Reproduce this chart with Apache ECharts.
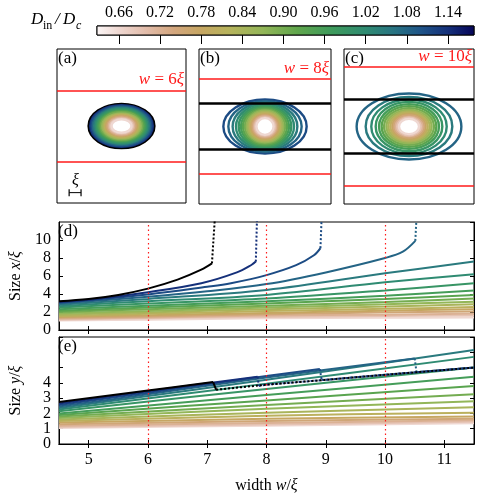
<!DOCTYPE html>
<html>
<head>
<meta charset="utf-8">
<script src="https://cdn.jsdelivr.net/npm/echarts@6/dist/echarts.min.js"></script>
<style>
  html, body { margin: 0; padding: 0; background: #fff; }
  #chart { width: 478px; height: 498px; }
</style>
</head>
<body>
<div id="chart"></div>
<script>
// ---- data ----
const dVals = [0.66, 0.69, 0.72, 0.75, 0.78, 0.81, 0.84, 0.87, 0.90, 0.93, 0.96, 0.99, 1.02, 1.05, 1.08, 1.11, 1.14];
const cbTicks = [0.66, 0.72, 0.78, 0.84, 0.90, 0.96, 1.02, 1.08, 1.14];
const cbRange = [0.628, 1.178];
const wTicks = [5, 6, 7, 8, 9, 10, 11];
const wMarks = [6, 8, 10];
const yTicksEvenE = [0, 2, 4, 6];
const yTicksOddE = [1, 3, 5];

// (d) size x of the states that stay bounded (D = 0.66 ... 1.05)
const wGridX = [4.5, 6, 8, 10, 11.5];
const sizeXRows = [
  [1.05, 1.15, 1.3, 1.35, 1.4],
  [1.15, 1.3, 1.45, 1.55, 1.6],
  [1.25, 1.4, 1.6, 1.7, 1.8],
  [1.35, 1.5, 1.75, 1.95, 2.05],
  [1.45, 1.65, 1.9, 2.15, 2.3],
  [1.55, 1.8, 2.1, 2.35, 2.55],
  [1.7, 1.95, 2.3, 2.6, 2.85],
  [1.85, 2.1, 2.5, 2.85, 3.15],
  [2.0, 2.3, 2.7, 3.1, 3.5],
  [2.15, 2.5, 2.95, 3.45, 3.9],
  [2.3, 2.7, 3.2, 3.8, 4.4],
  [2.5, 2.95, 3.5, 4.4, 5.2],
  [2.65, 3.2, 3.9, 5.3, 6.2],
  [2.8, 3.45, 4.45, 6.3, 7.6]
];
// (d) states that blow up along x
const blackX = [[4.5, 3.2], [5, 3.45], [5.5, 3.9], [6, 4.6], [6.5, 5.6], [6.9, 6.7], [7.08, 7.4]];
const blackXUp = [[7.08, 7.4], [7.1, 9.5], [7.13, 12.5]];
const x114 = [[4.5, 3.12], [5, 3.35], [6, 4.2], [6.9, 5.2], [7.5, 6.4], [7.75, 7.25], [7.82, 7.6]];
const x114Up = [[7.82, 7.6], [7.84, 12.5]];
const x111 = [[4.5, 3.05], [6, 3.95], [7, 4.8], [7.4, 5.2], [8, 6.1], [8.5, 7.2], [8.8, 8.3], [8.91, 9.1]];
const x111Up = [[8.91, 9.1], [8.93, 12.5]];
const x108 = [[4.5, 2.95], [6, 3.7], [7, 4.3], [8, 5.1], [9, 6.4], [10, 8.0], [10.3, 8.7], [10.51, 9.9]];
const x108Up = [[10.51, 9.9], [10.53, 12.5]];

// (e) size y of the bounded states
const wGridY = [4.5, 8, 11.5];
const sizeYRows = [
  [1.05, 1.2, 1.35],
  [1.12, 1.28, 1.45],
  [1.2, 1.38, 1.55],
  [1.3, 1.5, 1.65],
  [1.4, 1.65, 1.8],
  [1.5, 1.85, 2.05],
  [1.6, 2.05, 2.4],
  [1.7, 2.3, 2.8],
  [1.8, 2.55, 3.25],
  [1.9, 2.85, 3.8],
  [2.0, 3.2, 4.4],
  [2.15, 3.6, 5.0],
  [2.25, 3.95, 5.7],
  [2.35, 4.2, 6.15]
];
const blackY = [[4.5, 2.75], [6, 3.5], [7.1, 4.05]];
const blackYDrop = [[7.1, 4.05], [7.15, 3.55]];
const y114 = [[4.5, 2.65], [6, 3.45], [7.85, 4.4]];
const y114Drop = [[7.85, 4.4], [7.87, 3.8]];
const y111 = [[4.5, 2.55], [6, 3.35], [8, 4.45], [8.9, 4.9]];
const y111Drop = [[8.9, 4.9], [8.93, 4.2]];
const y108 = [[4.5, 2.45], [6, 3.25], [8, 4.35], [10, 5.35], [10.5, 5.6]];
const y108Drop = [[10.5, 5.6], [10.53, 4.7]];
// width of the stripe once the state is unbounded
const stripeY = [[7.15, 3.55], [8, 3.88], [9, 4.2], [10, 4.53], [11.5, 5.0]];

// snapshots (a) w=6, (b) w=8, (c) w=10 : semi-axes in units of xi, ascending D
const panelW = [6, 8, 10];
const snapA_rx = [0.84, 0.95, 1.06, 1.18, 1.29, 1.4, 1.51, 1.62, 1.74, 1.85, 1.96, 2.07, 2.18, 2.3, 2.41, 2.52, 2.63];
const snapA_ry = [0.56, 0.62, 0.7, 0.78, 0.84, 0.92, 1.0, 1.06, 1.15, 1.23, 1.29, 1.37, 1.46, 1.51, 1.6, 1.68, 1.74];
const snapA_black = [2.74, 1.83];
const snapB_rx = [0.72, 0.82, 0.92, 1.03, 1.15, 1.27, 1.40, 1.53, 1.68, 1.85, 2.02, 2.21, 2.44, 2.72, 3.08, 3.5];
const snapB_ry = [0.7, 0.77, 0.85, 0.93, 1.02, 1.12, 1.22, 1.32, 1.42, 1.52, 1.63, 1.75, 1.88, 2.0, 2.12, 2.27];
const snapC_rx = [0.84, 0.98, 1.12, 1.26, 1.4, 1.57, 1.74, 1.9, 2.1, 2.3, 2.52, 2.8, 3.17, 3.64, 4.4];
const snapC_ry = [0.64, 0.73, 0.81, 0.92, 1.04, 1.15, 1.26, 1.4, 1.54, 1.71, 1.88, 2.07, 2.27, 2.49, 2.77];

// ---- colour map for D_in/D_c ----
const cmapStops = [
  [0.628, '#fbf6f6'], [0.66, '#efd8d2'], [0.70, '#e2bcaa'], [0.74, '#d3a67e'],
  [0.78, '#c6a662'], [0.82, '#b7b35c'], [0.87, '#93b658'], [0.92, '#60a64c'],
  [0.97, '#3e9b5c'], [1.02, '#2f8b72'], [1.06, '#287482'], [1.10, '#1f5488'],
  [1.14, '#15307a'], [1.178, '#050458']
];
function hexRgb(h) {
  return [1, 3, 5].map(i => parseInt(h.substr(i, 2), 16));
}
function colorOf(d) {
  for (let i = 1; i < cmapStops.length; i++) {
    const [d0, c0] = cmapStops[i - 1];
    const [d1, c1] = cmapStops[i];
    if (d <= d1) {
      const t = Math.max(0, (d - d0) / (d1 - d0));
      const a = hexRgb(c0), b = hexRgb(c1);
      const m = a.map((v, k) => Math.round(v + (b[k] - v) * t));
      return 'rgb(' + m.join(',') + ')';
    }
  }
  return cmapStops[cmapStops.length - 1][1];
}

const FONT = 'Liberation Serif';
const FS = 16;
const txt = { fontFamily: FONT, fontSize: FS, color: '#000' };
const italic = { fontFamily: FONT, fontSize: FS, fontStyle: 'italic', color: '#000' };
const RED = '#ff1a1a';

// ---- grids ----
const grids = [
  { left: 97, top: 26, width: 377, height: 9 },                 // colour bar
  { left: 57, top: 49, width: 129, height: 154 },               // (a)
  { left: 199, top: 49, width: 132, height: 155 },              // (b)
  { left: 344, top: 49, width: 130, height: 155 },              // (c)
  { left: 56, top: 222, width: 418, height: 108 },              // (d)
  { left: 56, top: 337, width: 418, height: 107 }               // (e)
].map(g => Object.assign({ show: true, borderColor: '#000', borderWidth: 1, backgroundColor: 'transparent' }, g));

const PX_PER_XI = 11.9;
function panelAxes(gi) {
  const g = grids[gi];
  const hx = g.width / PX_PER_XI / 2, hy = g.height / PX_PER_XI / 2;
  return [
    { type: 'value', gridIndex: gi, min: -hx, max: hx, show: false },
    { type: 'value', gridIndex: gi, min: -hy, max: hy, show: false }
  ];
}

const tickStyle = { show: true, inside: true, length: 4, lineStyle: { color: '#000', width: 1 } };
function plotX(gi, pos, labels, name) {
  return {
    type: 'value', gridIndex: gi, position: pos, min: 4.5, max: 11.5,
    axisLine: { show: true, lineStyle: { color: '#000', width: 1 } },
    axisTick: Object.assign({ customValues: wTicks }, tickStyle),
    axisLabel: labels ? Object.assign({ customValues: wTicks, margin: 8 }, txt) : { show: false },
    splitLine: { show: false },
    name: name || '', nameLocation: 'middle', nameGap: 34,
    nameTextStyle: { fontFamily: FONT, fontSize: FS, color: '#000', rich: { t: txt, i: italic } }
  };
}
function plotY(gi, pos, max, interval, labels, name) {
  return {
    type: 'value', gridIndex: gi, position: pos, min: 0, max: max, interval: interval,
    axisLine: { show: true, lineStyle: { color: '#000', width: 1 } },
    axisTick: tickStyle,
    axisLabel: labels ? Object.assign({ showMinLabel: true, showMaxLabel: false, margin: 8 }, labels === true ? {} : { customValues: labels }, txt) : { show: false },
    splitLine: { show: false },
    name: name || '', nameLocation: 'middle', nameGap: 35, nameRotate: 90,
    nameTextStyle: { fontFamily: FONT, fontSize: FS, color: '#000', rich: { t: txt, i: italic } }
  };
}

const aA = panelAxes(1), aB = panelAxes(2), aC = panelAxes(3);
const xAxes = [
  {
    type: 'value', gridIndex: 0, position: 'top', min: cbRange[0], max: cbRange[1], z: 5,
    axisLine: { show: false },
    axisTick: { show: true, inside: true, length: 9, customValues: cbTicks, lineStyle: { color: '#000', width: 1 } },
    axisLabel: Object.assign({ customValues: cbTicks, margin: 5, formatter: v => v.toFixed(2) }, txt),
    splitLine: { show: false }
  },
  aA[0], aB[0], aC[0],
  plotX(4, 'bottom', false), plotX(4, 'top', false),
  plotX(5, 'bottom', true, '{t|width }{i|w}{t|/}{i|ξ}'), plotX(5, 'top', false)
];
// (e) odd labels on a second, otherwise invisible left axis so no label gets dropped
const yOddE = plotY(5, 'left', 7, 1, yTicksOddE);
yOddE.axisLine = { show: false };
yOddE.axisTick = { show: false };
const yAxes = [
  { type: 'value', gridIndex: 0, min: 0, max: 1, show: false },
  aA[1], aB[1], aC[1],
  plotY(4, 'left', 12, 2, true, '{t|Size }{i|x}{t|/}{i|ξ}'), plotY(4, 'right', 12, 2, false),
  plotY(5, 'left', 7, 1, yTicksEvenE, '{t|Size }{i|y}{t|/}{i|ξ}'), plotY(5, 'right', 7, 1, false),
  yOddE
];

const series = [];

// colour bar
series.push({
  type: 'custom', xAxisIndex: 0, yAxisIndex: 0, silent: true,
  data: [[cbRange[0], cbRange[1]]],
  renderItem: function (params, api) {
    const p0 = api.coord([api.value(0), 0]);
    const p1 = api.coord([api.value(1), 1]);
    return {
      type: 'rect',
      shape: { x: p0[0], y: p1[1], width: p1[0] - p0[0], height: p0[1] - p1[1] },
      style: {
        fill: {
          type: 'linear', x: 0, y: 0, x2: 1, y2: 0,
          colorStops: cmapStops.map(s => ({ offset: (s[0] - cbRange[0]) / (cbRange[1] - cbRange[0]), color: s[1] }))
        },
        stroke: '#000', lineWidth: 1
      }
    };
  }
});

// snapshots
function snapshot(axisIdx, rx, ry, extra, w, stripeHalf) {
  const items = [];
  rx.forEach((r, i) => items.push({ value: [r, ry[i]], itemStyle: { color: colorOf(dVals[i]) } }));
  items.reverse(); // outer first, inner on top
  if (extra) items.unshift({ value: extra, itemStyle: { color: '#000' } });
  const lines = [
    {
      yAxis: w / 2,
      label: {
        show: true, position: 'insideEndTop', distance: 2,
        formatter: '{i|w} = ' + w + '{i|ξ}',
        color: RED, fontFamily: FONT, fontSize: 17,
        rich: { i: { fontStyle: 'italic', color: RED, fontFamily: FONT, fontSize: 17 } }
      }
    },
    { yAxis: -w / 2 }
  ];
  series.push({
    type: 'custom', xAxisIndex: axisIdx, yAxisIndex: axisIdx, silent: true,
    data: items,
    renderItem: function (params, api) {
      const c = api.coord([0, 0]);
      const s = api.size([api.value(0), api.value(1)]);
      return {
        type: 'ellipse',
        shape: { cx: c[0], cy: c[1], rx: s[0], ry: s[1] },
        style: { fill: 'none', stroke: api.visual('color'), lineWidth: params.dataIndex === 0 && extra ? 3 : 2.4 }
      };
    },
    markLine: {
      silent: true, symbol: 'none', animation: false,
      lineStyle: { color: RED, width: 1.5, type: 'solid', opacity: 1 },
      label: { show: false },
      data: lines
    }
  });
  if (stripeHalf) {
    series.push({
      type: 'custom', xAxisIndex: axisIdx, yAxisIndex: axisIdx, silent: true,
      data: [], renderItem: () => null,
      markLine: {
        silent: true, symbol: 'none', animation: false, z: 6,
        lineStyle: { color: '#000', width: 2.6, type: 'solid', opacity: 1 },
        label: { show: false },
        data: [{ yAxis: stripeHalf }, { yAxis: -stripeHalf }]
      }
    });
  }
}
const stripeAt = w => stripeY.find(p => p[0] === w)[1] / 2;
snapshot(1, snapA_rx, snapA_ry, snapA_black, panelW[0], null);
snapshot(2, snapB_rx, snapB_ry, null, panelW[1], stripeAt(8));
snapshot(3, snapC_rx, snapC_ry, null, panelW[2], stripeAt(10));

// scale bar of one xi in (a)
series.push({
  type: 'line', xAxisIndex: 1, yAxisIndex: 1, silent: true,
  data: [[-4.4, -5.6], [-3.4, -5.6]],
  symbol: 'rect', symbolSize: [1.2, 7], showSymbol: true,
  itemStyle: { color: '#000' }, lineStyle: { color: '#000', width: 1 }
});

// line plots
function addLine(ax, data, color, dotted, z) {
  series.push({
    type: 'line', xAxisIndex: ax, yAxisIndex: ax, data: data,
    showSymbol: false, symbol: 'none', smooth: dotted ? false : 0.35, silent: true,
    z: z || 2,
    lineStyle: { color: color, width: 2, type: dotted ? [2, 2] : 'solid', cap: 'butt' }
  });
}
// (d)
sizeXRows.forEach((row, i) => addLine(4, wGridX.map((w, k) => [w, row[k]]), colorOf(dVals[i])));
addLine(4, x108, colorOf(1.08)); addLine(4, x108Up, colorOf(1.08), true);
addLine(4, x111, colorOf(1.11)); addLine(4, x111Up, colorOf(1.11), true);
addLine(4, x114, colorOf(1.14)); addLine(4, x114Up, colorOf(1.14), true);
addLine(4, blackX, '#000', false, 3); addLine(4, blackXUp, '#000', true, 3);
// (e)
sizeYRows.forEach((row, i) => addLine(6, wGridY.map((w, k) => [w, row[k]]), colorOf(dVals[i])));
addLine(6, y108, colorOf(1.08)); addLine(6, y108Drop, colorOf(1.08), true);
addLine(6, [y108Drop[1]].concat(stripeY.filter(p => p[0] > y108Drop[1][0])), colorOf(1.08), true);
addLine(6, y111, colorOf(1.11)); addLine(6, y111Drop, colorOf(1.11), true);
addLine(6, [y111Drop[1]].concat(stripeY.filter(p => p[0] > y111Drop[1][0])), colorOf(1.11), true);
addLine(6, y114, colorOf(1.14)); addLine(6, y114Drop, colorOf(1.14), true);
addLine(6, [y114Drop[1]].concat(stripeY.filter(p => p[0] > y114Drop[1][0])), colorOf(1.14), true);
addLine(6, blackY, '#000', false, 3); addLine(6, blackYDrop, '#000', false, 3);
addLine(6, stripeY, '#000', true, 3);

// red dotted guides at the snapshot widths
[4, 6].forEach(ax => {
  series.push({
    type: 'line', xAxisIndex: ax, yAxisIndex: ax, data: [], silent: true,
    markLine: {
      silent: true, symbol: 'none', animation: false,
      lineStyle: { color: RED, width: 1.2, type: [1.5, 3], opacity: 1 },
      label: { show: false },
      data: wMarks.map(w => ({ xAxis: w }))
    }
  });
});

const chart = echarts.init(document.getElementById('chart'), null, { renderer: 'canvas' });
chart.setOption({
  animation: false,
  backgroundColor: '#fff',
  grid: grids,
  xAxis: xAxes,
  yAxis: yAxes,
  series: series,
  graphic: [
    { type: 'text', left: 31, top: 11, style: { text: 'D', font: 'italic 17px "Liberation Serif"', fill: '#000' } },
    { type: 'text', left: 43, top: 20, style: { text: 'in', font: '12px "Liberation Serif"', fill: '#000' } },
    { type: 'text', left: 55, top: 11, style: { text: '/', font: 'italic 17px "Liberation Serif"', fill: '#000' } },
    { type: 'text', left: 63, top: 11, style: { text: 'D', font: 'italic 17px "Liberation Serif"', fill: '#000' } },
    { type: 'text', left: 76, top: 20, style: { text: 'c', font: 'italic 12px "Liberation Serif"', fill: '#000' } },
    { type: 'text', left: 58, top: 50, style: { text: '(a)', font: '17px "Liberation Serif"', fill: '#000' } },
    { type: 'text', left: 200, top: 50, style: { text: '(b)', font: '17px "Liberation Serif"', fill: '#000' } },
    { type: 'text', left: 345, top: 50, style: { text: '(c)', font: '17px "Liberation Serif"', fill: '#000' } },
    { type: 'text', left: 58, top: 223, style: { text: '(d)', font: '17px "Liberation Serif"', fill: '#000' } },
    { type: 'text', left: 58, top: 338, style: { text: '(e)', font: '17px "Liberation Serif"', fill: '#000' } },
    { type: 'text', left: 72, top: 173, style: { text: 'ξ', font: 'italic 16px "Liberation Serif"', fill: '#000' } }
  ]
});
</script>
</body>
</html>
